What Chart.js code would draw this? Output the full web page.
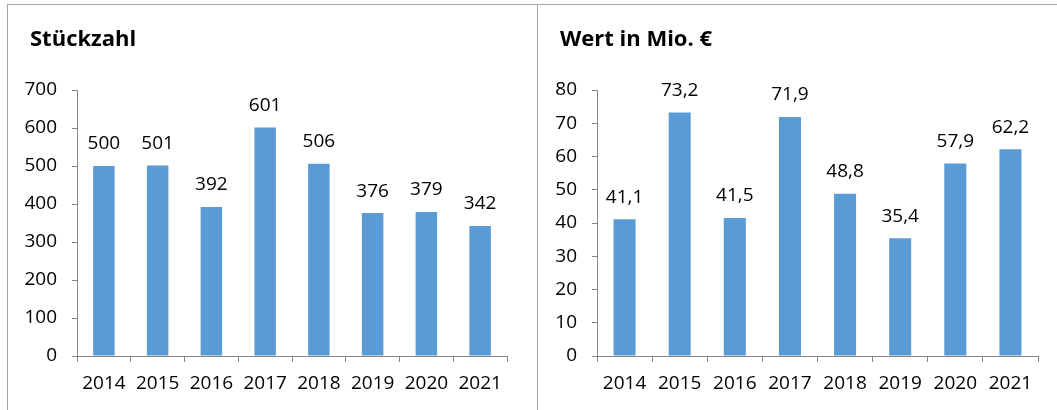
<!DOCTYPE html>
<html>
<head>
<meta charset="utf-8">
<script src="https://cdn.jsdelivr.net/npm/chart.js@4.4.0/dist/chart.umd.min.js"></script>
<style>
  html, body { margin: 0; padding: 0; background: #fff; }
  body { width: 1057px; height: 410px; position: relative; overflow: hidden; }
  .frame { position: absolute; border-left: 1px solid #a6a6a6; border-top: 1px solid #a6a6a6; }
  canvas { position: absolute; top: 0; }
</style>
</head>
<body>
<div class="frame" style="left:7px; top:4px; width:1050px; height:406px;"></div>
<div class="frame" style="left:537px; top:4px; width:520px; height:406px; border-top:none;"></div>
<canvas id="countChart" width="537" height="410" style="left:0;"></canvas>
<canvas id="valueChart" width="520" height="410" style="left:537px;"></canvas>
<script>
const years = ['2014', '2015', '2016', '2017', '2018', '2019', '2020', '2021'];
const stueckzahl = [500, 501, 392, 601, 506, 376, 379, 342];
const wertMio = [41.1, 73.2, 41.5, 71.9, 48.8, 35.4, 57.9, 62.2];

const barBlue = '#5b9bd5';
const axisGrey = '#868686';
const fontFamily = '"Open Sans", sans-serif';

// labels above each bar, and a small nudge of the title to the right
const valueLabels = {
    id: 'valueLabels',
    afterLayout(chart, args, opts) {
        if (chart.titleBlock) chart.titleBlock.left += opts.titleShift;
    },
    afterDatasetsDraw(chart, args, opts) {
        const ctx = chart.ctx;
        const meta = chart.getDatasetMeta(0);
        ctx.save();
        ctx.font = '19px ' + fontFamily;
        ctx.fillStyle = '#000';
        ctx.textAlign = 'center';
        ctx.textBaseline = 'middle';
        meta.data.forEach((bar, i) => {
            const v = chart.data.datasets[0].data[i];
            ctx.fillText(opts.format(v), bar.x, bar.y - 22);
        });
        ctx.restore();
    }
};

function makeChart(id, title, data, max, step, yWidth, pad, shift, fmt) {
    return new Chart(document.getElementById(id), {
        type: 'bar',
        data: {
            labels: years,
            datasets: [{
                data: data,
                backgroundColor: barBlue,
                categoryPercentage: 1,
                barPercentage: 0.4
            }]
        },
        plugins: [valueLabels],
        options: {
            responsive: false,
            animation: false,
            events: [],
            layout: { padding: pad },
            plugins: {
                legend: { display: false },
                tooltip: { enabled: false },
                valueLabels: { format: fmt, titleShift: shift },
                title: {
                    display: true,
                    text: title,
                    align: 'start',
                    color: '#000',
                    font: { family: fontFamily, size: 22, weight: 'bold', lineHeight: 1.2 },
                    padding: { top: 27, bottom: 36.6 }
                }
            },
            scales: {
                y: {
                    min: 0,
                    max: max,
                    afterFit: (s) => { s.width = yWidth; },
                    border: { color: axisGrey },
                    grid: { drawOnChartArea: false, tickLength: 5, color: axisGrey },
                    ticks: { stepSize: step, padding: 15, color: '#000', font: { family: fontFamily, size: 19 } }
                },
                x: {
                    afterFit: (s) => { s.height = 40; },
                    border: { color: axisGrey },
                    grid: { drawOnChartArea: false, tickLength: 6, color: axisGrey, offset: true },
                    ticks: { padding: 10, color: '#000', font: { family: fontFamily, size: 19 }, maxRotation: 0 }
                }
            }
        }
    });
}

makeChart('countChart', 'Stückzahl', stueckzahl, 700, 100, 57,
    { left: 20, right: 30, top: 0, bottom: 14 }, 10, v => String(v));
makeChart('valueChart', 'Wert in Mio. €', wertMio, 80, 10, 46,
    { left: 14, right: 19, top: 0, bottom: 14 }, 9, v => v.toFixed(1).replace('.', ','));
</script>
</body>
</html>
